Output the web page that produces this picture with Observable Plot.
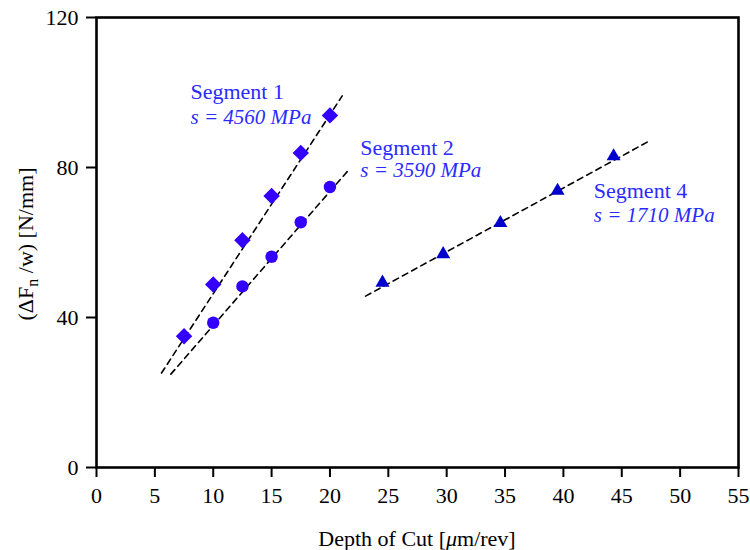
<!DOCTYPE html>
<html>
<head>
<meta charset="utf-8">
<script src="https://cdn.jsdelivr.net/npm/d3@7"></script>
<script src="https://cdn.jsdelivr.net/npm/@observablehq/plot@0.6"></script>
<style>
  html, body { margin: 0; padding: 0; background: #fff; }
  svg text, svg tspan { font-family: "Liberation Serif", "Times New Roman", serif; }
</style>
</head>
<body>
<div id="chart"></div>
<script>
// ---- data ----
const seg1X = [7.5, 10, 12.5, 15, 17.5, 20];
const seg1Y = [35.0, 48.8, 60.6, 72.4, 83.9, 93.9];
const seg2X = [10, 12.5, 15, 17.5, 20];
const seg2Y = [38.6, 48.3, 56.2, 65.4, 74.8];
const seg4X = [24.5, 29.7, 34.6, 39.5, 44.3];
const seg4Y = [49.3, 56.9, 65.2, 73.8, 83.0];

// dashed fit lines (endpoints as read)
const fit1X = [5.57, 21.05], fit1Y = [25.2, 99.1];
const fit2X = [6.37, 21.7],  fit2Y = [24.9, 79.7];
const fit4X = [23.05, 47.2], fit4Y = [45.7, 86.8];

// annotations
const labelNames = ["Segment 1", "Segment 2", "Segment 4"];
const labelStress = ["s = 4560 MPa", "s = 3590 MPa", "s = 1710 MPa"];
const labelX = [8.05, 22.6, 42.6];
const labelNameY = [100.1, 85.3, 73.7];
const labelStressY = [93.3, 79.2, 67.2];

const xTicks = [0, 5, 10, 15, 20, 25, 30, 35, 40, 45, 50, 55];
const yTicks = [0, 40, 80, 120];

// ---- build tables ----
const pts = (xs, ys) => xs.map((x, i) => ({x, y: ys[i]}));
const p1 = pts(seg1X, seg1Y), p2 = pts(seg2X, seg2Y), p4 = pts(seg4X, seg4Y);
const f1 = pts(fit1X, fit1Y), f2 = pts(fit2X, fit2Y), f4 = pts(fit4X, fit4Y);
const labels = labelNames.map((n, i) => ({name: n, stress: labelStress[i], x: labelX[i], yn: labelNameY[i], ys: labelStressY[i]}));

const serif = "Liberation Serif";
const fs = 22;
const markColor = "#3300ff";
const triColor = "#0000cc";
const textColor = "#2b2bff";
const dash = {stroke: "black", strokeWidth: 1.6, strokeDasharray: "6,4.5"};

const plot = Plot.plot({
  width: 750,
  height: 550,
  marginLeft: 96,
  marginRight: 12,
  marginTop: 17,
  marginBottom: 83,
  style: {fontFamily: serif, fontSize: fs + "px", color: "black", background: "white"},
  x: {domain: [0, 55]},
  y: {domain: [0, 120]},
  marks: [
    Plot.line(f1, {x: "x", y: "y", ...dash}),
    Plot.line(f2, {x: "x", y: "y", ...dash}),
    Plot.line(f4, {x: "x", y: "y", ...dash}),
    Plot.dot(p1, {x: "x", y: "y", symbol: "diamond2", r: 7.4, fill: markColor, stroke: "none"}),
    Plot.dot(p2, {x: "x", y: "y", symbol: "circle", r: 6.2, fill: markColor, stroke: "none"}),
    Plot.dot(p4, {x: "x", y: "y", symbol: "triangle", r: 5.2, fill: triColor, stroke: "none"}),
    Plot.text(labels, {x: "x", y: "yn", text: "name", textAnchor: "start", fill: textColor, fontSize: fs, fontFamily: serif}),
    Plot.text(labels, {x: "x", y: "ys", text: "stress", textAnchor: "start", fill: textColor, fontSize: 21, fontFamily: serif, fontStyle: "italic"}),
    Plot.axisX({ticks: xTicks, tickSize: 10, tickPadding: 10, strokeWidth: 2, label: null, fontSize: fs, fontFamily: serif, tickFormat: d => String(d)}),
    Plot.axisY({ticks: yTicks, tickSize: 10, tickPadding: 8, strokeWidth: 2, label: null, fontSize: fs, fontFamily: serif, tickFormat: d => String(d)}),
    Plot.frame({stroke: "black", strokeWidth: 2.6})
  ]
});

const svg = d3.select(plot).attr("font-family", serif);
// x axis label
const xl = svg.append("text")
  .attr("x", 417).attr("y", 541)
  .attr("text-anchor", "middle")
  .attr("dominant-baseline", "middle")
  .attr("font-size", fs)
  .attr("font-family", serif)
  .attr("fill", "black");
xl.append("tspan").text("Depth of Cut [");
xl.append("tspan").attr("font-style", "italic").text("μ");
xl.append("tspan").text("m/rev]");

// y axis label with subscript
const yl = svg.append("text")
  .attr("transform", "translate(28,244) rotate(-90)")
  .attr("text-anchor", "middle")
  .attr("dominant-baseline", "middle")
  .attr("font-size", fs)
  .attr("font-family", serif)
  .attr("fill", "black");
yl.append("tspan").text("(ΔF");
yl.append("tspan").attr("font-size", 16).attr("dy", 6).text("n");
yl.append("tspan").attr("dy", -6).text(" /w) [N/mm]");

document.getElementById("chart").appendChild(plot);
</script>
</body>
</html>
